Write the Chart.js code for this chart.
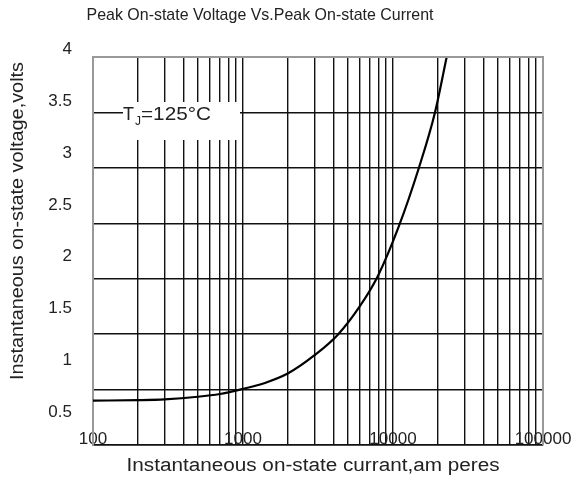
<!DOCTYPE html>
<html>
<head>
<meta charset="utf-8">
<script src="https://cdn.jsdelivr.net/npm/chart.js@4.4.1/dist/chart.umd.min.js"></script>
<style>
  html, body { margin: 0; padding: 0; background: #fff; }
  #wrap { position: relative; width: 571px; height: 481px; }
</style>
</head>
<body>
<div id="wrap"><canvas id="chart" width="571" height="481"></canvas></div>
<script>
// values (Tj = 125°C)
const currentA = [100, 200, 300, 500, 700, 955, 1400, 2000, 3000, 4320, 6000, 7900, 10850, 14960, 19050, 22800];
const voltageV = [0.90, 0.905, 0.912, 0.935, 0.96, 1.0, 1.06, 1.147, 1.31, 1.5, 1.75, 2.02, 2.46, 3.01, 3.5, 4.0];

const xLabelValues = [100, 1000, 10000, 100000];
const yLabelValues = [0.5, 1, 1.5, 2, 2.5, 3, 3.5, 4];

const chartTitle = 'Peak On-state Voltage Vs.Peak On-state Current';
const xTitle = 'Instantaneous on-state currant,am peres';
const yTitle = 'Instantaneous on-state voltage,volts';
const noteParts = ['T', 'J', '=125°C'];

// minor log grid: 1..9 x each decade
const xGridValues = [];
for (let d = 100; d < 100000; d *= 10) {
  for (let m = 1; m < 10; m++) xGridValues.push(m * d);
}
xGridValues.push(100000);

const FONT = "'Liberation Sans', Arial, sans-serif";
const GRID = '#111';
const TEXT = '#222';

// draw text at (x, y), stretched to a given width
function fitText(ctx, text, x, y, width, angle) {
  const w = ctx.measureText(text).width;
  ctx.save();
  ctx.translate(x, y);
  if (angle) ctx.rotate(angle);
  ctx.scale(width / w, 1);
  ctx.fillText(text, 0, 0);
  ctx.restore();
}

// titles, Tj note and gray frame
const extras = {
  id: 'extras',
  beforeDatasetsDraw(chart) {
    const ctx = chart.ctx;
    ctx.save();
    ctx.fillStyle = '#fff';
    ctx.fillRect(123, 102, 117, 38);
    ctx.fillStyle = TEXT;
    ctx.textAlign = 'left';
    ctx.textBaseline = 'alphabetic';
    ctx.font = '18px ' + FONT;
    ctx.fillText(noteParts[0], 123, 120);
    ctx.font = '12px ' + FONT;
    ctx.fillText(noteParts[1], 135, 125);
    ctx.font = '18px ' + FONT;
    fitText(ctx, noteParts[2], 141, 120, 70);
    ctx.restore();
  },
  afterDatasetsDraw(chart) {
    const a = chart.chartArea;
    const ctx = chart.ctx;
    ctx.save();
    ctx.strokeStyle = '#999';
    ctx.lineWidth = 2;
    ctx.beginPath();
    ctx.moveTo(a.left, a.top);
    ctx.lineTo(a.right, a.top);
    ctx.lineTo(a.right, a.bottom);
    ctx.stroke();
    ctx.restore();
  },
  afterDraw(chart) {
    const ctx = chart.ctx;
    ctx.save();
    ctx.fillStyle = TEXT;
    ctx.textAlign = 'center';
    ctx.textBaseline = 'middle';
    ctx.font = '17px ' + FONT;
    fitText(ctx, chartTitle, 260, 15, 347);
    ctx.font = '18px ' + FONT;
    fitText(ctx, yTitle, 18, 221, 318, -Math.PI / 2);
    fitText(ctx, xTitle, 313, 466, 373);
    ctx.restore();
  }
};

new Chart(document.getElementById('chart'), {
  type: 'line',
  data: {
    datasets: [{
      data: currentA.map((c, i) => ({ x: c, y: voltageV[i] })),
      borderColor: '#000',
      borderWidth: 2.2,
      pointRadius: 0,
      cubicInterpolationMode: 'monotone',
      clip: false
    }]
  },
  options: {
    responsive: false,
    animation: false,
    devicePixelRatio: 1,
    layout: { padding: { top: 57, right: 28, bottom: 0, left: 0 } },
    plugins: { legend: { display: false }, tooltip: { enabled: false } },
    scales: {
      x: {
        type: 'logarithmic',
        min: 100,
        max: 100000,
        afterBuildTicks: s => { s.ticks = xGridValues.map(v => ({ value: v })); },
        afterFit: s => { s.height = 36; },
        ticks: {
          autoSkip: false,
          maxRotation: 0,
          mirror: true,
          padding: -5,
          color: TEXT,
          font: { family: FONT, size: 17 },
          callback: v => (xLabelValues.includes(v) ? String(v) : '')
        },
        grid: { color: GRID, lineWidth: 1.4, drawTicks: false },
        border: { color: GRID, width: 1.6 }
      },
      y: {
        type: 'linear',
        position: 'left',
        weight: 0,
        min: 0.5,
        max: 4,
        afterFit: s => { s.width = 0; },
        ticks: { display: false, stepSize: 0.5 },
        grid: { color: GRID, lineWidth: 1.4, drawTicks: false },
        border: { color: '#999', width: 2 }
      },
      yL: {
        type: 'linear',
        position: 'left',
        weight: 1,
        min: 0.18,
        max: 3.93,
        afterBuildTicks: s => { s.ticks = yLabelValues.map(v => ({ value: v })); },
        afterFit: s => { s.width = 93; },
        ticks: {
          padding: 21,
          color: TEXT,
          font: { family: FONT, size: 17 },
          callback: v => String(v)
        },
        grid: { display: false, drawTicks: false },
        border: { display: false }
      }
    }
  },
  plugins: [extras]
});
</script>
</body>
</html>
